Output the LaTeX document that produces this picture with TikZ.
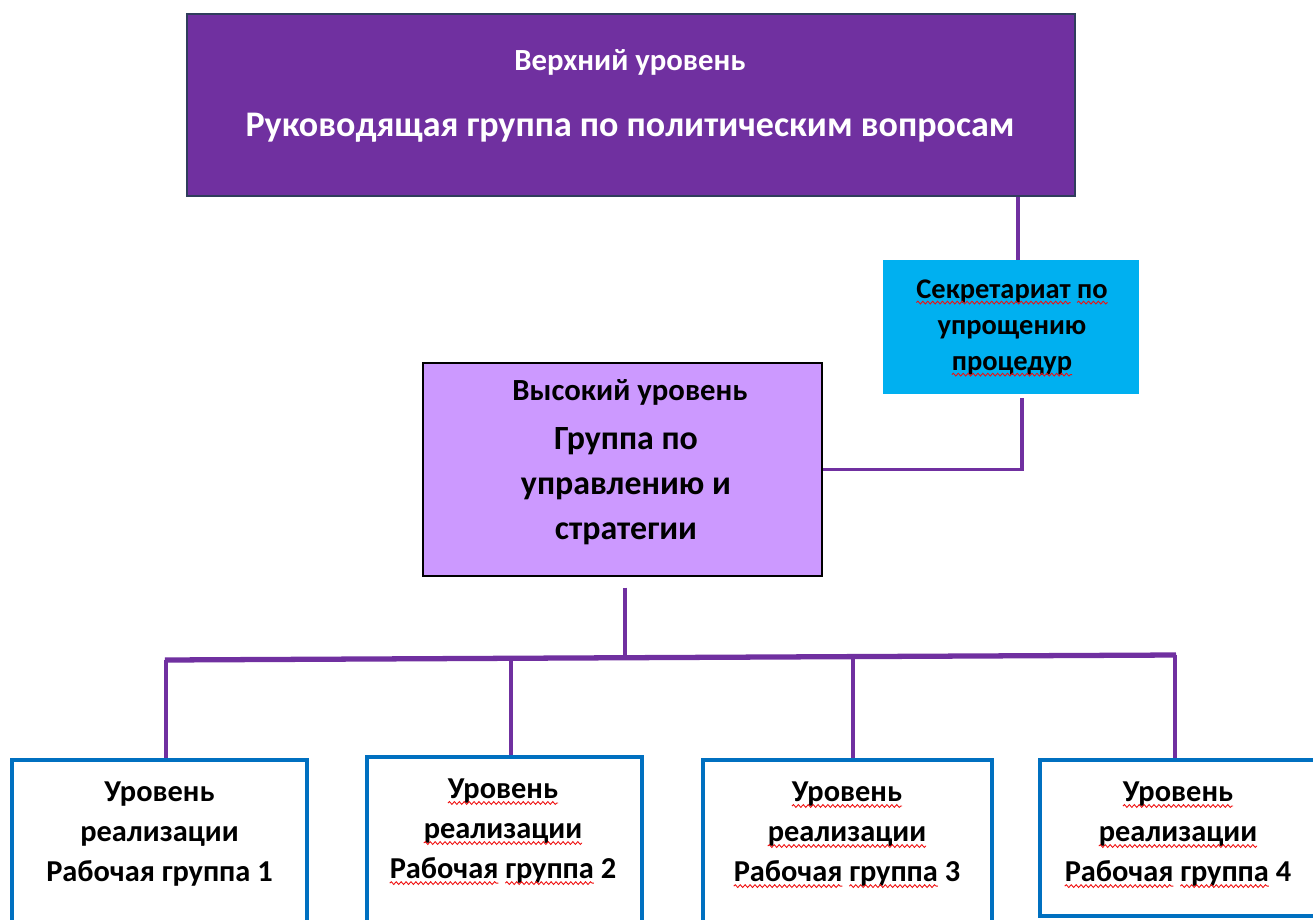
\documentclass[tikz,border=0pt]{standalone}
\usepackage{fontspec}
\setmainfont{Carlito}
\definecolor{toppurple}{HTML}{7030A0}
\definecolor{topframe}{HTML}{2F3D5C}
\definecolor{secblue}{HTML}{00B0F0}
\definecolor{midlilac}{HTML}{CC99FF}
\definecolor{wgframe}{HTML}{0070C0}
\definecolor{linkpurple}{HTML}{7030A0}
\definecolor{spellred}{HTML}{F01010}
\usetikzlibrary{positioning, decorations.pathmorphing}

% wavy red underline under one word
\newcommand\spell[1]{\tikz[baseline=(sw.base)]{\node[inner sep=0pt, outer sep=0pt, anchor=base] (sw) {#1};
	\draw[overlay, spellred, line width=0.5pt, decorate, decoration={snake, amplitude=0.8pt, segment length=2.8pt}] ([yshift=-2.6pt]sw.base west) -- ([yshift=-2.6pt]sw.base east);}}

\begin{document}
\begin{tikzpicture}[x=0.02cm, y=-0.02cm,
						topbox/.style={draw=topframe, fill=toppurple, line width=1.6pt, minimum width=17.76cm, minimum height=3.64cm},
						secbox/.style={fill=secblue, minimum width=5.12cm, minimum height=2.68cm},
						midbox/.style={draw=black, fill=midlilac, line width=0.8pt, minimum width=7.98cm, minimum height=4.26cm},
						wgbox/.style={draw=wgframe, fill=white, line width=2.6pt},
						link/.style={draw=linkpurple, line width=2.2pt},
						bus/.style={draw=linkpurple, line width=3pt},
						hdr/.style={font=\fontsize{17.5}{21}\selectfont\bfseries, inner sep=0pt},
						bigtext/.style={font=\fontsize{20.5}{25.6}\selectfont\bfseries, align=center, inner sep=0pt},
						midtext/.style={font=\fontsize{19.3}{25.6}\selectfont\bfseries, align=center, inner sep=0pt},
						secrtext/.style={font=\fontsize{16.2}{20.5}\selectfont\bfseries, align=center, inner sep=0pt},
						wgtext/.style={font=\fontsize{17.3}{22.8}\selectfont\bfseries, align=center, inner sep=0pt}
					]
					\useasboundingbox (0,0) rectangle (1313,920);

					% boxes
					\node[topbox] (top) at (631,105) {};
					\node[secbox] (secr) at (1011,327) {};
					\node[midbox] (mid) at (622.5,469.5) {};
					\node[wgbox, minimum width=5.9cm, minimum height=3.4cm] (wg1) at (159.5,845) {};
					\node[wgbox, minimum width=5.5cm, minimum height=3.46cm] (wg2) at (504.5,843.5) {};
					\node[wgbox, minimum width=5.78cm, minimum height=3.4cm] (wg3) at (847.5,845) {};
					\node[wgbox, minimum width=5.7cm, minimum height=3.12cm] (wg4) at (1182.5,838) {};

					% texts
					\node[hdr, text=white] (tophd) at (630,62) {Верхний уровень};
					\node[bigtext, text=white] (toptx) at (630,128) {Руководящая группа по политическим вопросам};
					\node[secrtext] (secrtx) at (1012,327) {\spell{Секретариат} \spell{по}\\упрощению\\\spell{процедур}};
					\node[hdr] (midhd) at (630,392) {Высокий уровень};
					\node[midtext] (midtx) at (626,486) {Группа по\\управлению и\\стратегии};
					\node[wgtext] (wg1tx) at (159.5,834) {Уровень\\реализации\\Рабочая группа 1};
					\node[wgtext] (wg2tx) at (503,831) {\spell{Уровень}\\\spell{реализации}\\\spell{Рабочая} \spell{группа} 2};
					\node[wgtext] (wg3tx) at (847,834) {\spell{Уровень}\\\spell{реализации}\\\spell{Рабочая} \spell{группа} 3};
					\node[wgtext] (wg4tx) at (1178,834) {\spell{Уровень}\\\spell{реализации}\\\spell{Рабочая} \spell{группа} 4};

					% connectors
					\coordinate (tapA) at (1018,0);
					\coordinate (tapB) at (1022,0);
					\coordinate (tapC) at (625,0);
					\coordinate (busL) at (165,660);
					\coordinate (busR) at (1176,655);
					\coordinate (busC) at (625,657.7);
					\draw[link] (top.south -| tapA) -- (secr.north -| tapA);
					\draw[link] ([yshift=-0.08cm]secr.south -| tapB) |- (mid.east);
					\draw[link] ([yshift=-0.22cm]mid.south -| tapC) -- (busC);
					\draw[bus] (busL) -- (busR);
					\foreach \i/\x/\y in {1/166/659.6, 2/511/658.3, 3/853/656.6, 4/1175/655} {
						\coordinate (b\i) at (\x,\y);
						\draw[link] (b\i) -- (b\i |- wg\i.north);
					}
				\end{tikzpicture}
\end{document}
